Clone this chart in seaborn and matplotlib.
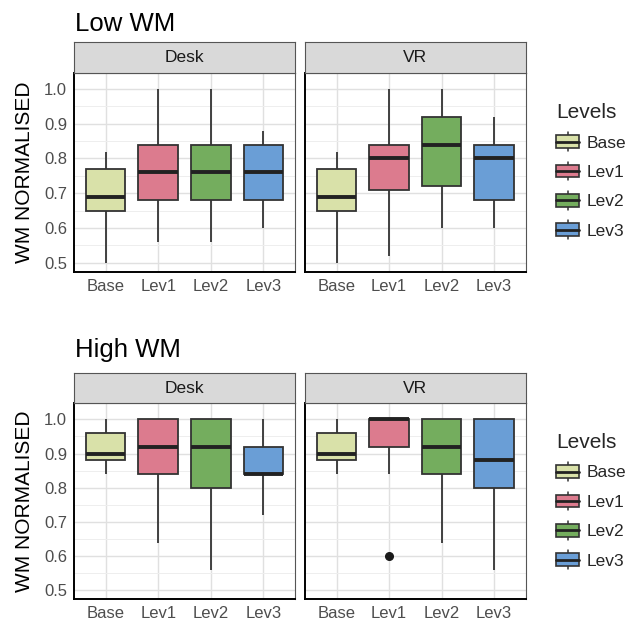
import numpy as np
import pandas as pd
import matplotlib
matplotlib.use("Agg")
import matplotlib.pyplot as plt
import seaborn as sns
from matplotlib.legend_handler import HandlerBase
from matplotlib.patches import Rectangle, Patch
from matplotlib.lines import Line2D
from matplotlib.ticker import MultipleLocator

levels = ["Base", "Lev1", "Lev2", "Lev3"]
conditions = ["Desk", "VR"]
groups = ["Low WM", "High WM"]
palette = ["#d9e1a9", "#dc7b8e", "#74ad5e", "#6a9ed6"]

low_desk = [[0.50, 0.65, 0.69, 0.77, 0.82],
            [0.56, 0.68, 0.76, 0.84, 1.00],
            [0.56, 0.68, 0.76, 0.84, 1.00],
            [0.60, 0.68, 0.76, 0.84, 0.88]]
low_vr = [[0.50, 0.65, 0.69, 0.77, 0.82],
          [0.52, 0.71, 0.80, 0.84, 1.00],
          [0.60, 0.72, 0.84, 0.92, 1.00],
          [0.60, 0.68, 0.80, 0.84, 0.92]]
high_desk = [[0.84, 0.88, 0.90, 0.96, 1.00],
             [0.64, 0.84, 0.92, 1.00, 1.00],
             [0.56, 0.80, 0.92, 1.00, 1.00],
             [0.721, 0.84, 0.84, 0.92, 1.00]]
high_vr = [[0.84, 0.88, 0.90, 0.96, 1.00],
           [0.60, 0.84, 0.92, 0.92, 1.00, 1.00, 1.00, 1.00, 1.00],
           [0.64, 0.84, 0.92, 1.00, 1.00],
           [0.56, 0.80, 0.88, 1.00, 1.00]]

rows = []
for group, panels in zip(groups, [[low_desk, low_vr], [high_desk, high_vr]]):
    for cond, panel in zip(conditions, panels):
        for lev, vals in zip(levels, panel):
            for v in vals:
                rows.append({"Group": group, "Condition": cond, "Level": lev, "WM": v})
df = pd.DataFrame(rows)


class BoxKey(HandlerBase):
    # ggplot-like boxplot legend key
    def create_artists(self, legend, orig_handle, xdescent, ydescent,
                       width, height, fontsize, trans):
        x0, y0 = -xdescent, -ydescent
        cx = x0 + width / 2
        b0, b1 = y0 + height * 0.16, y0 + height * 0.84
        ec = "#333333"
        wl = Line2D([cx, cx], [y0, b0], color=ec, lw=1.1, transform=trans)
        wh = Line2D([cx, cx], [b1, y0 + height], color=ec, lw=1.1, transform=trans)
        box = Rectangle((x0, b0), width, b1 - b0, facecolor=orig_handle.get_facecolor(),
                        edgecolor=ec, lw=1.2, transform=trans)
        med = Line2D([x0, x0 + width], [(b0 + b1) / 2] * 2, color="#222222", lw=2.0, transform=trans)
        return [wl, wh, box, med]


sns.set_theme(style="white")
plt.rcParams["font.family"] = ["Liberation Sans", "DejaVu Sans"]

fig = plt.figure(figsize=(6.29, 6.28), dpi=100)

lefts = [74 / 629, 305 / 629]
widths = [221 / 629, 220.7 / 629]
# (panel bottom, panel height, strip bottom, strip height, title y, legend y)
row_layout = [(0.5674, 0.3169, 0.8842, 0.0494, 1 - 30.7 / 628, 0.728),
              (0.0457, 0.3121, 0.3578, 0.0487, 1 - 357.3 / 628, 0.2026)]

for group, (pb, ph, sb, sh, ty, ly) in zip(groups, row_layout):
    for c, cond in enumerate(conditions):
        ax = fig.add_axes([lefts[c], pb, widths[c], ph])
        sub = df[(df["Group"] == group) & (df["Condition"] == cond)]
        sns.boxplot(data=sub, x="Level", y="WM", hue="Level", order=levels, hue_order=levels,
                    palette=palette, saturation=1, width=0.75, linewidth=1.3,
                    linecolor="#333333", showcaps=False,
                    medianprops={"linewidth": 2.8, "color": "#222222"},
                    flierprops={"marker": "o", "markerfacecolor": "#1a1a1a",
                                "markeredgecolor": "#1a1a1a", "markersize": 5.5},
                    legend=False, ax=ax)
        ax.set_xlim(-0.6, 3.6)
        ax.set_ylim(0.474, 1.047)
        ax.yaxis.set_major_locator(MultipleLocator(0.1))
        ax.yaxis.set_minor_locator(MultipleLocator(0.05))
        ax.set_axisbelow(True)
        ax.grid(True, which="major", color="#e0e0e0", lw=1.0)
        ax.grid(True, which="minor", axis="y", color="#eeeeee", lw=0.7)
        ax.tick_params(which="minor", length=0)
        for s in ["left", "bottom"]:
            ax.spines[s].set_color("black")
            ax.spines[s].set_linewidth(1.4)
        for s in ["top", "right"]:
            ax.spines[s].set_color("#555555")
            ax.spines[s].set_linewidth(0.8)
        ax.tick_params(axis="both", which="major", direction="out", length=3, width=0.8,
                       color="#333333", labelsize=12, labelcolor="#4d4d4d", pad=2)
        ax.set_xlabel("")
        if c == 0:
            ax.set_ylabel("WM NORMALISED", fontsize=15, color="black", va="center")
            ax.yaxis.set_label_coords(-0.225, 0.5)
        else:
            ax.set_ylabel("")
            ax.tick_params(axis="y", left=False, labelleft=False)

        strip = fig.add_axes([lefts[c], sb, widths[c], sh])
        strip.set_facecolor("#d9d9d9")
        strip.set_xticks([])
        strip.set_yticks([])
        for s in strip.spines.values():
            s.set_color("#555555")
            s.set_linewidth(0.8)
        strip.text(0.5, 0.5, cond, ha="center", va="center", fontsize=12.5, color="#1a1a1a",
                   transform=strip.transAxes)

    fig.text(75 / 629, ty, group, fontsize=18.5, color="black", va="baseline")

    handles = [Patch(facecolor=col, edgecolor="#333333") for col in palette]
    fig.legend(handles, levels, handler_map={Patch: BoxKey()}, title="Levels",
               loc="center left", bbox_to_anchor=(556 / 629, ly), frameon=False,
               fontsize=12.5, title_fontsize=15, handlelength=1.35, handleheight=1.27,
               labelspacing=0.62, handletextpad=0.44, borderpad=0, borderaxespad=0,
               alignment="left")

fig.savefig("out.png", dpi=100)
